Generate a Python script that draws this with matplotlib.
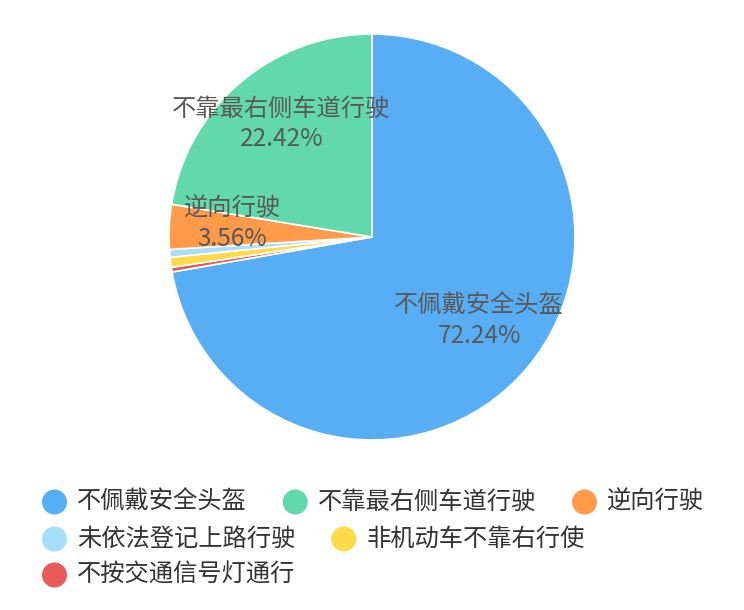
import numpy as np
import matplotlib
matplotlib.use("Agg")
import matplotlib.pyplot as plt

plt.rcParams['font.family'] = ['Noto Sans CJK SC', 'DejaVu Sans']

# ── data (legend order) ─────────────────────────────────────────────────────
names = ["不佩戴安全头盔", "不靠最右侧车道行驶", "逆向行驶",
         "未依法登记上路行驶", "非机动车不靠右行使", "不按交通信号灯通行"]
values = [72.24, 22.42, 3.56, 0.62, 0.79, 0.37]
colors = ["#58AEF5", "#62D9AD", "#FF9A4A", "#A7DFFB", "#FFDB4A", "#E85B5B"]
show_label = [True, True, True, False, False, False]

# drawing order clockwise from the top
draw_order = [0, 5, 4, 3, 2, 1]

W, H = 744, 610
fig = plt.figure(figsize=(W / 100, H / 100), dpi=100)

# ── pie ─────────────────────────────────────────────────────────────────────
cx, cy, R = 372, 237, 203
ax = fig.add_axes([(cx - R) / W, (H - cy - R) / H, 2 * R / W, 2 * R / H])
wedges, _ = ax.pie([values[i] for i in draw_order],
                   colors=[colors[i] for i in draw_order],
                   startangle=90, counterclock=False, radius=1,
                   wedgeprops=dict(edgecolor="white", linewidth=1.2))
ax.set_xlim(-1, 1)
ax.set_ylim(-1, 1)
ax.set_aspect("equal")
ax.axis("off")

total = sum(values)
for w, i in zip(wedges, draw_order):
    if not show_label[i]:
        continue
    mid = np.deg2rad((w.theta1 + w.theta2) / 2)
    r = 0.69
    ax.annotate(f"{names[i]}\n{values[i] / total * 100:.2f}%",
                xy=(r * np.cos(mid), r * np.sin(mid)),
                xytext=(0, 4.5), textcoords="offset points",
                ha="center", va="center", fontsize=17.5, color="#595959",
                linespacing=1.2)

# ── legend (flow layout like the original) ──────────────────────────────────
renderer = fig.canvas.get_renderer()
x0, x_max = 42, W - 20
row_y = [502, 539, 575]
x, row = x0, 0
dot_d, txt_off, gap = 25, 35, 36
for i, name in enumerate(names):
    t = fig.text(0, 0, name, fontsize=17.5, color="#333333",
                 ha="left", va="center")
    tw = t.get_window_extent(renderer).width
    if x + txt_off + tw > x_max:
        row += 1
        x = x0
    y = H - row_y[row]
    t.set_position(((x + txt_off) / W, y / H))
    fig.add_artist(matplotlib.patches.Ellipse(
        ((x + dot_d / 2) / W, y / H), dot_d / W, dot_d / H,
        transform=fig.transFigure, color=colors[i], lw=0))
    x += txt_off + tw + gap

fig.savefig("out.png", dpi=100, facecolor="white")
